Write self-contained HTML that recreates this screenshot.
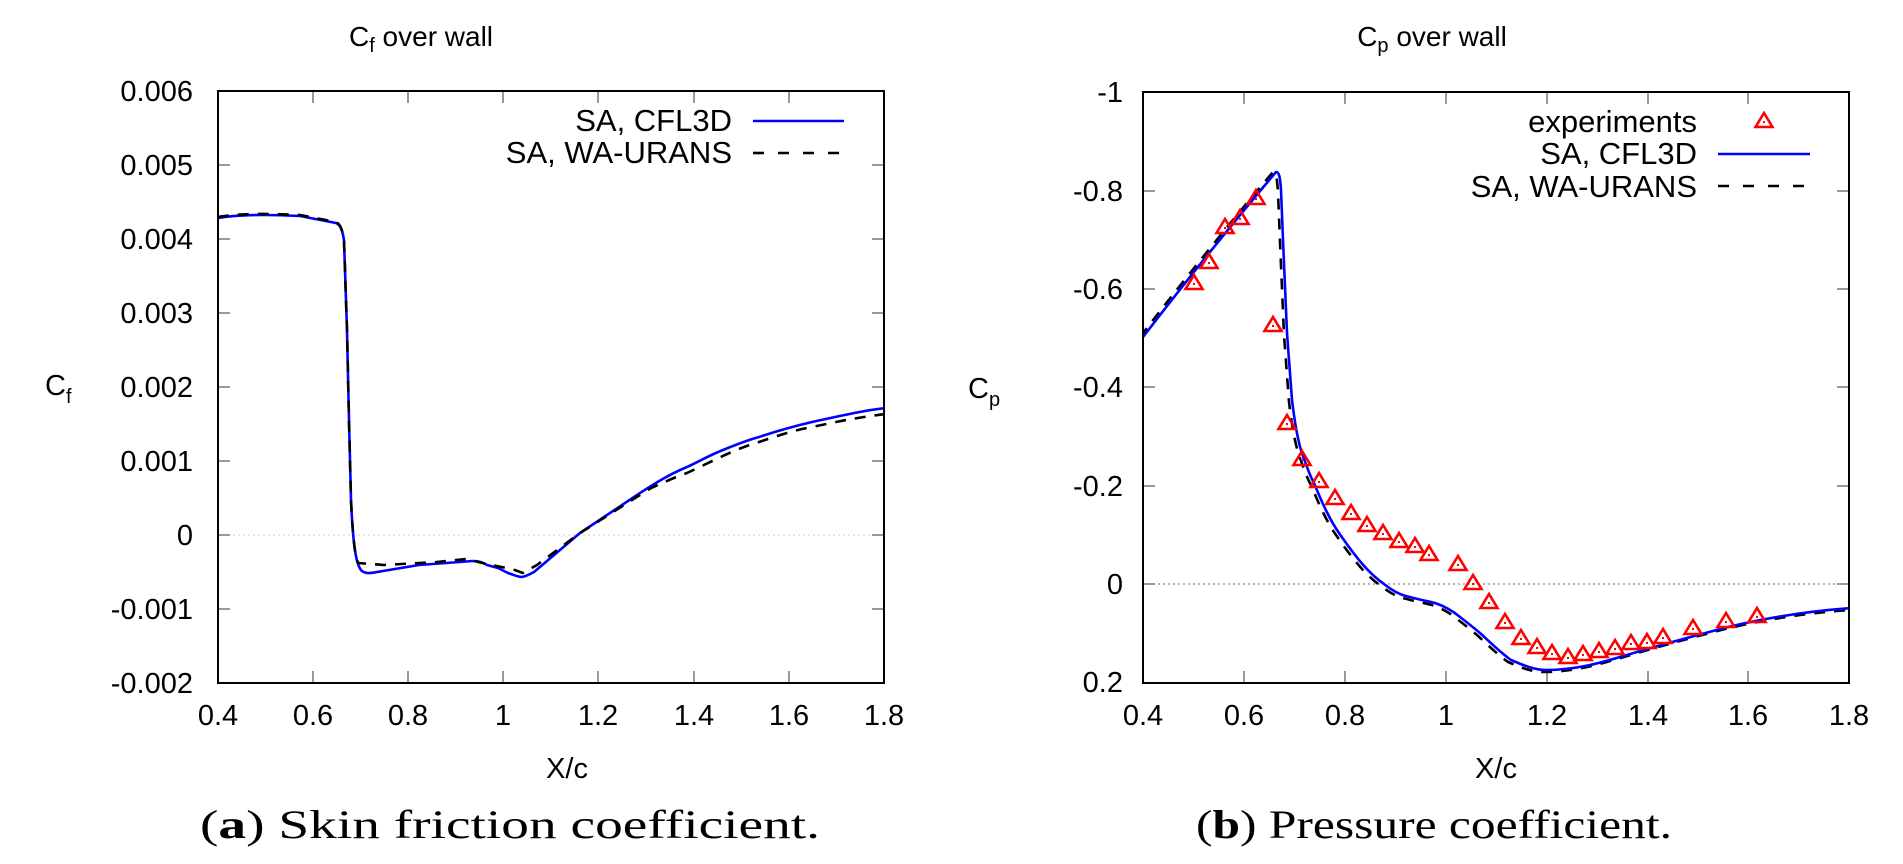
<!DOCTYPE html>
<html><head><meta charset="utf-8"><style>
html,body{margin:0;padding:0;background:#fff;}
svg{display:block;}
text{font-family:"Liberation Sans",sans-serif;fill:#000;}
.t{font-size:29px;}
.cap{font-family:"Liberation Serif",serif;font-size:40px;}
</style></head><body>
<svg width="1903" height="864" viewBox="0 0 1903 864" xmlns="http://www.w3.org/2000/svg">
<defs>
<clipPath id="cl"><rect x="218" y="91" width="666" height="592"/></clipPath>
<clipPath id="cr"><rect x="1143" y="92" width="706" height="591"/></clipPath>
<g id="tri"><polygon points="0,-8 -8.5,6 8.5,6" fill="none" stroke="#f00" stroke-width="2.6"/><rect x="-1" y="0" width="2" height="2" fill="#f00"/></g>
</defs>

<!-- LEFT PLOT -->
<text x="421" y="46" font-size="28" text-anchor="middle">C<tspan font-size="20" dy="6">f</tspan><tspan dy="-6"> over wall</tspan></text>
<line x1="218" y1="535" x2="884" y2="535" stroke="#ccc" stroke-width="1" stroke-dasharray="2,3"/>
<g stroke="#999" stroke-width="2">
<line x1="313" y1="683" x2="313" y2="671"/><line x1="408" y1="683" x2="408" y2="671"/><line x1="503" y1="683" x2="503" y2="671"/><line x1="598" y1="683" x2="598" y2="671"/><line x1="694" y1="683" x2="694" y2="671"/><line x1="789" y1="683" x2="789" y2="671"/>
<line x1="313" y1="91" x2="313" y2="103"/><line x1="408" y1="91" x2="408" y2="103"/><line x1="503" y1="91" x2="503" y2="103"/><line x1="598" y1="91" x2="598" y2="103"/><line x1="694" y1="91" x2="694" y2="103"/><line x1="789" y1="91" x2="789" y2="103"/>
<line x1="218" y1="165" x2="230" y2="165"/><line x1="218" y1="239" x2="230" y2="239"/><line x1="218" y1="313" x2="230" y2="313"/><line x1="218" y1="387" x2="230" y2="387"/><line x1="218" y1="461" x2="230" y2="461"/><line x1="218" y1="535" x2="230" y2="535"/><line x1="218" y1="609" x2="230" y2="609"/>
<line x1="884" y1="165" x2="872" y2="165"/><line x1="884" y1="239" x2="872" y2="239"/><line x1="884" y1="313" x2="872" y2="313"/><line x1="884" y1="387" x2="872" y2="387"/><line x1="884" y1="461" x2="872" y2="461"/><line x1="884" y1="535" x2="872" y2="535"/><line x1="884" y1="609" x2="872" y2="609"/>
</g>
<g clip-path="url(#cl)" fill="none" stroke-linejoin="round">
<path d="M218,218 C235,215 260,214 300,216 L336,223 C340,225 342,228 344,240 L347,330 L349,420 L351,500 C353,545 356,566 362,571 C366,574 370,573 373,572.7 L419,565 L473,561 C480,561 484,563 487,565 L498,568 L508,573 C514,575 518,577 522,577 C527,576 530,574 534,572 L580,533 L634,497 C655,483 670,474 687,467 C700,461 710,455 723,450 C740,443 748,440 759,437 C780,430 795,426 812,422 C840,416 860,411 886,408" stroke="#0000ff" stroke-width="2.6"/>
<path d="M218,217 C235,214 260,213 300,215 L336,222 C340,224 342,228 344,240 L347,330 L349,420 L351,500 C353,540 355,556 358,563 L384,565 L437,562 L466,559 L491,565 L512,569 L523,573 L537,565 L580,533 L651,488 C665,482 675,477 687,473 C715,460 735,449 759,442 C780,435 795,430 812,427 C840,421 860,417 886,414" stroke="#000" stroke-width="2.6" stroke-dasharray="11,9"/>
</g>
<rect x="218" y="91" width="666" height="592" fill="none" stroke="#000" stroke-width="2"/>
<g class="t" text-anchor="end">
<text x="193" y="101">0.006</text><text x="193" y="175">0.005</text><text x="193" y="249">0.004</text><text x="193" y="323">0.003</text><text x="193" y="397">0.002</text><text x="193" y="471">0.001</text><text x="193" y="545">0</text><text x="193" y="619">-0.001</text><text x="193" y="693">-0.002</text>
</g>
<g class="t" text-anchor="middle">
<text x="218" y="725">0.4</text><text x="313" y="725">0.6</text><text x="408" y="725">0.8</text><text x="503" y="725">1</text><text x="598" y="725">1.2</text><text x="694" y="725">1.4</text><text x="789" y="725">1.6</text><text x="884" y="725">1.8</text>
</g>
<text x="567" y="778" class="t" text-anchor="middle">X/c</text>
<text x="45" y="395" font-size="29">C<tspan font-size="20" dy="8">f</tspan></text>
<text x="732" y="131" font-size="31" text-anchor="end">SA, CFL3D</text>
<text x="732" y="163" font-size="31" text-anchor="end">SA, WA-URANS</text>
<line x1="753" y1="121" x2="844" y2="121" stroke="#0000ff" stroke-width="2.6"/>
<line x1="753" y1="153" x2="844" y2="153" stroke="#000" stroke-width="2.6" stroke-dasharray="11,14"/>
<text x="200" y="838" class="cap" textLength="620" lengthAdjust="spacingAndGlyphs">(<tspan font-weight="bold">a</tspan>) Skin friction coefficient.</text>

<!-- RIGHT PLOT -->
<text x="1432" y="46" font-size="28" text-anchor="middle">C<tspan font-size="20" dy="6">p</tspan><tspan dy="-6"> over wall</tspan></text>
<line x1="1143" y1="584" x2="1849" y2="584" stroke="#888" stroke-width="1.2" stroke-dasharray="2,3"/>
<g stroke="#999" stroke-width="2">
<line x1="1244" y1="683" x2="1244" y2="671"/><line x1="1345" y1="683" x2="1345" y2="671"/><line x1="1446" y1="683" x2="1446" y2="671"/><line x1="1547" y1="683" x2="1547" y2="671"/><line x1="1648" y1="683" x2="1648" y2="671"/><line x1="1748" y1="683" x2="1748" y2="671"/>
<line x1="1244" y1="92" x2="1244" y2="104"/><line x1="1345" y1="92" x2="1345" y2="104"/><line x1="1446" y1="92" x2="1446" y2="104"/><line x1="1547" y1="92" x2="1547" y2="104"/><line x1="1648" y1="92" x2="1648" y2="104"/><line x1="1748" y1="92" x2="1748" y2="104"/>
<line x1="1143" y1="191" x2="1155" y2="191"/><line x1="1143" y1="289" x2="1155" y2="289"/><line x1="1143" y1="387" x2="1155" y2="387"/><line x1="1143" y1="486" x2="1155" y2="486"/><line x1="1143" y1="584" x2="1155" y2="584"/>
<line x1="1849" y1="191" x2="1837" y2="191"/><line x1="1849" y1="289" x2="1837" y2="289"/><line x1="1849" y1="387" x2="1837" y2="387"/><line x1="1849" y1="486" x2="1837" y2="486"/><line x1="1849" y1="584" x2="1837" y2="584"/>
</g>
<g clip-path="url(#cr)" fill="none" stroke-linejoin="round">
<path transform="translate(-3,2)" d="M1143,335 Q1210,248 1276,170 C1279,170 1280,176 1281,190 L1283,240 L1287,333 L1292,400 C1295,425 1298,440 1301,450 C1306,465 1310,476 1314,483 C1323,505 1330,520 1339,533 C1355,556 1368,573 1384,584 C1393,591 1400,595 1410,597 C1420,600 1428,601 1435,603 C1447,607 1454,612 1460,617 C1468,623 1474,628 1480,633 C1492,644 1500,652 1511,660 C1525,666 1535,670 1546,670 C1575,670 1600,663 1620,657 C1660,645 1690,637 1728,627 C1770,617 1810,611 1852,608" stroke="#000" stroke-width="2.6" stroke-dasharray="11,9"/>
<path d="M1143,337 Q1210,250 1276,172 C1279,172 1280,176 1281,190 L1283,240 L1287,333 L1292,400 C1295,425 1298,440 1301,450 C1306,465 1310,476 1314,483 C1323,505 1330,520 1339,533 C1355,556 1368,573 1384,584 C1393,591 1400,595 1410,597 C1420,600 1428,601 1435,603 C1447,607 1454,612 1460,617 C1468,623 1474,628 1480,633 C1492,644 1500,652 1511,660 C1525,666 1535,670 1546,670 C1575,670 1600,663 1620,657 C1660,645 1690,637 1728,627 C1770,617 1810,611 1852,608" stroke="#0000ff" stroke-width="2.6"/>
</g>
<g>
<use href="#tri" x="1194" y="283"/><use href="#tri" x="1209" y="262"/><use href="#tri" x="1225" y="227"/><use href="#tri" x="1240" y="218"/><use href="#tri" x="1256" y="198"/><use href="#tri" x="1273" y="325"/>
<use href="#tri" x="1287" y="423"/><use href="#tri" x="1302" y="459"/><use href="#tri" x="1319" y="481"/><use href="#tri" x="1335" y="498"/><use href="#tri" x="1351" y="513"/><use href="#tri" x="1367" y="525"/><use href="#tri" x="1383" y="533"/><use href="#tri" x="1399" y="541"/><use href="#tri" x="1415" y="546"/><use href="#tri" x="1429" y="554"/><use href="#tri" x="1458" y="564"/><use href="#tri" x="1473" y="583"/><use href="#tri" x="1489" y="602"/><use href="#tri" x="1505" y="622"/><use href="#tri" x="1521" y="638"/><use href="#tri" x="1537" y="647"/><use href="#tri" x="1552" y="653"/><use href="#tri" x="1568" y="657"/><use href="#tri" x="1583" y="654"/><use href="#tri" x="1599" y="651"/><use href="#tri" x="1615" y="648"/><use href="#tri" x="1631" y="643"/><use href="#tri" x="1647" y="642"/><use href="#tri" x="1663" y="637"/><use href="#tri" x="1693" y="628"/><use href="#tri" x="1726" y="621"/><use href="#tri" x="1757" y="616"/>
</g>
<rect x="1143" y="92" width="706" height="591" fill="none" stroke="#000" stroke-width="2"/>
<g class="t" text-anchor="end">
<text x="1123" y="102">-1</text><text x="1123" y="201">-0.8</text><text x="1123" y="299">-0.6</text><text x="1123" y="397">-0.4</text><text x="1123" y="496">-0.2</text><text x="1123" y="594">0</text><text x="1123" y="692">0.2</text>
</g>
<g class="t" text-anchor="middle">
<text x="1143" y="725">0.4</text><text x="1244" y="725">0.6</text><text x="1345" y="725">0.8</text><text x="1446" y="725">1</text><text x="1547" y="725">1.2</text><text x="1648" y="725">1.4</text><text x="1748" y="725">1.6</text><text x="1849" y="725">1.8</text>
</g>
<text x="1496" y="778" class="t" text-anchor="middle">X/c</text>
<text x="968" y="398" font-size="29">C<tspan font-size="20" dy="8">p</tspan></text>
<text x="1697" y="132" font-size="31" text-anchor="end">experiments</text>
<text x="1697" y="164" font-size="31" text-anchor="end">SA, CFL3D</text>
<text x="1697" y="197" font-size="31" text-anchor="end">SA, WA-URANS</text>
<use href="#tri" x="1764" y="121"/>
<line x1="1718" y1="154" x2="1810" y2="154" stroke="#0000ff" stroke-width="2.6"/>
<line x1="1718" y1="186" x2="1810" y2="186" stroke="#000" stroke-width="2.6" stroke-dasharray="11,14"/>
<text x="1196" y="838" class="cap" textLength="476" lengthAdjust="spacingAndGlyphs">(<tspan font-weight="bold">b</tspan>) Pressure coefficient.</text>
</svg>
</body></html>
